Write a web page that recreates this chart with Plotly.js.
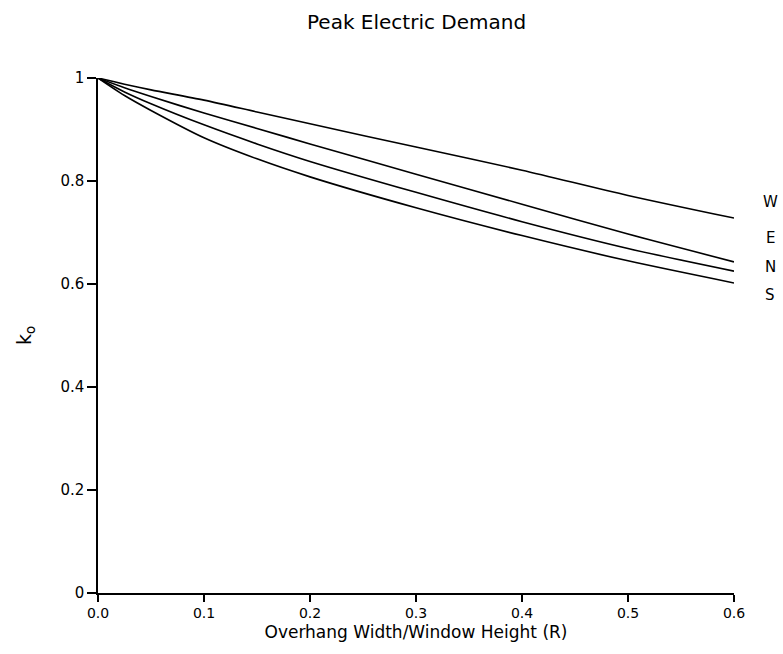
<!DOCTYPE html>
<html>
<head>
<meta charset="utf-8">
<script src="https://cdn.plot.ly/plotly-3.0.1.min.js"></script>
<style>html,body{margin:0;padding:0;background:#fff;}</style>
</head>
<body>
<div id="chart" style="width:783px;height:654px;"></div>
<script>
const ratio = [0, 0.025, 0.05, 0.1, 0.15, 0.2, 0.3, 0.4, 0.5, 0.6];
const kW = [1, 0.988, 0.977, 0.957, 0.934, 0.911, 0.866, 0.821, 0.772, 0.728];
const kE = [1, 0.981, 0.964, 0.932, 0.902, 0.872, 0.813, 0.755, 0.697, 0.643];
const kN = [1, 0.973, 0.950, 0.909, 0.872, 0.838, 0.778, 0.721, 0.669, 0.625];
const kS = [1, 0.966, 0.937, 0.884, 0.843, 0.808, 0.748, 0.694, 0.645, 0.602];
const seriesNames = ["W", "E", "N", "S"];
const labelY = [0.759, 0.689, 0.633, 0.579];
const xTicks = [0, 0.1, 0.2, 0.3, 0.4, 0.5, 0.6];
const xTickText = ["0.0", "0.1", "0.2", "0.3", "0.4", "0.5", "0.6"];
const yTicks = [0, 0.2, 0.4, 0.6, 0.8, 1];
const yTickText = ["0", "0.2", "0.4", "0.6", "0.8", "1"];

const FONT = "DejaVu Sans, sans-serif";
const ys = [kW, kE, kN, kS];
const traces = ys.map((y, i) => ({
  x: ratio, y: y, type: "scatter", mode: "lines", name: seriesNames[i],
  line: {color: "#000", width: 1.6, shape: "spline", smoothing: 0.8},
  cliponaxis: false, hoverinfo: "skip"
}));

const annotations = seriesNames.map((n, i) => ({
  x: 1.057, y: labelY[i], xref: "paper", yref: "y", text: n, showarrow: false,
  font: {family: FONT, size: 15, color: "#000"}, xanchor: "center", yanchor: "middle"
}));

const layout = {
  width: 783, height: 654,
  margin: {l: 98, r: 49, t: 78, b: 61},
  paper_bgcolor: "#fff", plot_bgcolor: "#fff",
  showlegend: false,
  title: {text: "Peak Electric Demand", x: 0.532, xanchor: "center", y: 0.966, yanchor: "middle",
          font: {family: FONT, size: 20, color: "#000"}},
  xaxis: {
    range: [0, 0.6], showgrid: false, zeroline: false, showline: true, linecolor: "#000", linewidth: 1.6,
    ticks: "outside", ticklen: 7, tickwidth: 1.3, tickcolor: "#000",
    tickvals: xTicks, ticktext: xTickText, tickfont: {family: FONT, size: 14, color: "#000"},
    title: {text: "Overhang Width/Window Height (R)", font: {family: FONT, size: 17, color: "#000"}, standoff: 5}
  },
  yaxis: {
    range: [0, 1], showgrid: false, zeroline: false, showline: true, linecolor: "#000", linewidth: 1.6,
    ticks: "outside", ticklen: 9, tickwidth: 1.3, tickcolor: "#000",
    tickvals: yTicks, ticktext: yTickText, tickfont: {family: FONT, size: 15, color: "#000"},
    title: {text: "k<sub>o</sub>", font: {family: FONT, size: 19, color: "#000"}, standoff: 24}
  },
  annotations: annotations
};

Plotly.newPlot("chart", traces, layout, {displayModeBar: false, staticPlot: true});
</script>
</body>
</html>
